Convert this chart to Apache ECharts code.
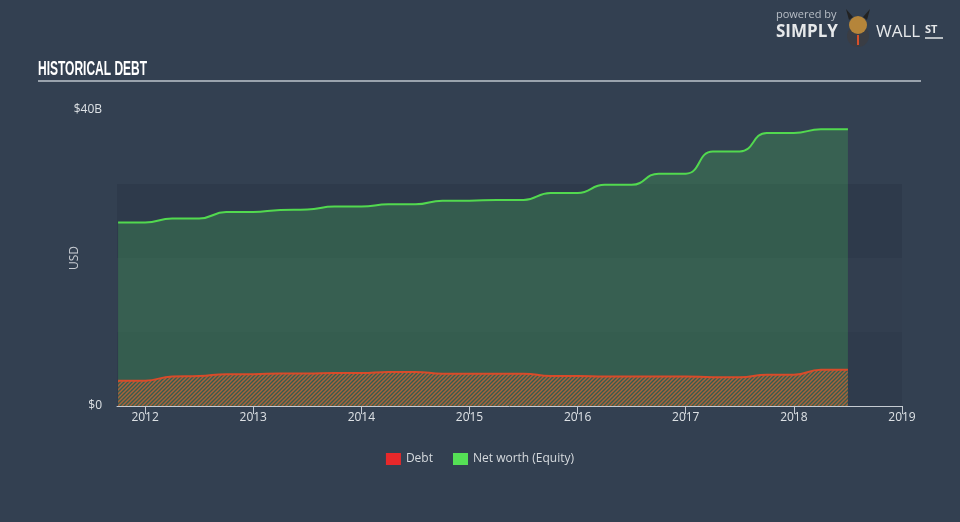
<!DOCTYPE html>
<html>
<head>
<meta charset="utf-8">
<script src="https://cdn.jsdelivr.net/npm/echarts@6/dist/echarts.min.js"></script>
<style>
html,body{margin:0;padding:0;background:#334051;}
#c{width:960px;height:522px;}
</style>
</head>
<body>
<div id="c"></div>
<script>
// Quarter-end dates as decimal years
var quarters = [2011.75,2012.0,2012.25,2012.5,2012.75,2013.0,2013.25,2013.5,2013.75,2014.0,2014.25,2014.5,2014.75,2015.0,2015.25,2015.5,2015.75,2016.0,2016.25,2016.5,2016.75,2017.0,2017.25,2017.5,2017.75,2018.0,2018.25,2018.5];
// Net worth (equity), USD billions
var netWorth = [24.8,24.8,25.35,25.35,26.2,26.2,26.5,26.55,26.95,26.95,27.25,27.25,27.75,27.75,27.85,27.85,28.8,28.8,29.9,29.9,31.4,31.4,34.4,34.4,36.9,36.9,37.4,37.4];
// Debt, USD billions
var debt = [3.42,3.42,4.0,4.05,4.3,4.3,4.4,4.4,4.45,4.45,4.6,4.6,4.37,4.37,4.37,4.37,4.05,4.05,4.0,4.0,4.0,4.0,3.88,3.88,4.23,4.23,4.9,4.9];
var yearTicks = [2012,2013,2014,2015,2016,2017,2018,2019];

function pair(xs, ys){ return xs.map(function(x,i){return [x, ys[i]];}); }

// hatch pattern for debt area
var pc = document.createElement('canvas');
pc.width = 4; pc.height = 4;
var pctx = pc.getContext('2d');
pctx.strokeStyle = 'rgba(215,100,50,0.72)';
pctx.lineWidth = 1.5;
pctx.beginPath();
pctx.moveTo(0,4); pctx.lineTo(4,0);
pctx.moveTo(-2,2); pctx.lineTo(2,-2);
pctx.moveTo(2,6); pctx.lineTo(6,2);
pctx.stroke();

var chart = echarts.init(document.getElementById('c'), null, {renderer:'canvas'});
var option = {
  backgroundColor: '#334051',
  animation: false,
  grid: {left:117, right:58, top:110, bottom:116},
  legend: {
    bottom: 52, left: 'center', itemWidth: 15, itemHeight: 12, itemGap: 20,
    icon: 'rect',
    textStyle: {color:'#d6dade', fontSize:12, fontFamily:'"Open Sans",sans-serif'},
    data: [
      {name:'Debt', itemStyle:{color:'#e8282a'}},
      {name:'Net worth (Equity)', itemStyle:{color:'#55e055'}}
    ]
  },
  xAxis: {
    type: 'value', min: 2011.74, max: 2019,
    axisLine: {show:true, lineStyle:{color:'#c5cbd2', width:1}},
    axisTick: {show:true, length:8, lineStyle:{color:'#c5cbd2'}, customValues: yearTicks},
    axisLabel: {color:'#dde1e5', fontSize:12, margin:6, fontFamily:'"Open Sans",sans-serif', customValues: yearTicks,
      formatter: function(v){return String(Math.round(v));}},
    splitLine: {show:false}
  },
  yAxis: {
    type: 'value', min: 0, max: 40, interval: 10,
    axisLine: {show:false}, axisTick: {show:false},
    axisLabel: {color:'#dde1e5', fontSize:12, margin:15, fontFamily:'"Open Sans",sans-serif',
      formatter: function(v){ return v===40 ? '$40B' : (v===0 ? '$0' : ''); }},
    splitLine: {show:false},
    splitArea: {show:true, areaStyle:{color:['#2f3b4c','#323e4f','#2e3a4b','rgba(0,0,0,0)']}}
  },
  series: [
    {
      name: 'Net worth (Equity)', type: 'line', data: pair(quarters, netWorth),
      smooth: 0.5, symbol: 'none',
      lineStyle: {color:'#52d94f', width:2},
      itemStyle: {color:'#55e055'},
      areaStyle: {color:'rgba(72,196,88,0.36)', origin:'start'},
      z: 2
    },
    {
      name: 'Debt', type: 'line', data: pair(quarters, debt),
      smooth: 0.5, symbol: 'none',
      lineStyle: {color:'#d84b2a', width:2},
      itemStyle: {color:'#e8282a'},
      areaStyle: {color:{image: pc, repeat:'repeat'}, opacity:1, origin:'start'},
      z: 3
    }
  ],
  graphic: [
    {type:'text', x:38, y:59, scaleX:0.6, style:{text:'HISTORICAL DEBT', fill:'#ffffff', fontSize:20, fontWeight:'bold', fontFamily:'"Liberation Sans",sans-serif'}},
    {type:'line', shape:{x1:38, y1:81, x2:921, y2:81}, style:{stroke:'#9aa3ad', lineWidth:2}},
    {type:'text', x:75, y:258, rotation:Math.PI/2, style:{text:'USD', fill:'#c8ccd2', fontSize:12, align:'center', verticalAlign:'middle', fontFamily:'"Open Sans",sans-serif'}},
    {type:'text', left:776, top:9, style:{text:'powered by', fill:'#b8bec6', fontSize:11, fontFamily:'"Open Sans",sans-serif'}},
    {type:'text', left:776, top:24, style:{text:'SIMPLY', fill:'#e6e8ea', fontSize:17, fontWeight:'bold', fontFamily:'"Open Sans",sans-serif'}},
    {type:'text', left:876, top:24, style:{text:'WALL', fill:'#e6e8ea', fontSize:17, fontFamily:'"Open Sans",sans-serif'}},
    {type:'text', left:925, top:24, style:{text:'ST', fill:'#e6e8ea', fontSize:11, fontWeight:'bold', fontFamily:'"Open Sans",sans-serif'}},
    {type:'line', shape:{x1:925, y1:38, x2:943, y2:38}, style:{stroke:'#e6e8ea', lineWidth:1.5}},
    {type:'circle', shape:{cx:858, cy:36, r:11}, style:{fill:'#3a3d44'}},
    {type:'circle', shape:{cx:858, cy:25, r:9}, style:{fill:'#b5853a'}},
    {type:'polygon', shape:{points:[[849,20],[846,9],[853,17]]}, style:{fill:'#222'}},
    {type:'polygon', shape:{points:[[867,20],[870,9],[863,17]]}, style:{fill:'#222'}},
    {type:'line', shape:{x1:858, y1:35, x2:858, y2:45}, style:{stroke:'#d8502a', lineWidth:2}}
  ]
};
chart.setOption(option);
</script>
</body>
</html>
